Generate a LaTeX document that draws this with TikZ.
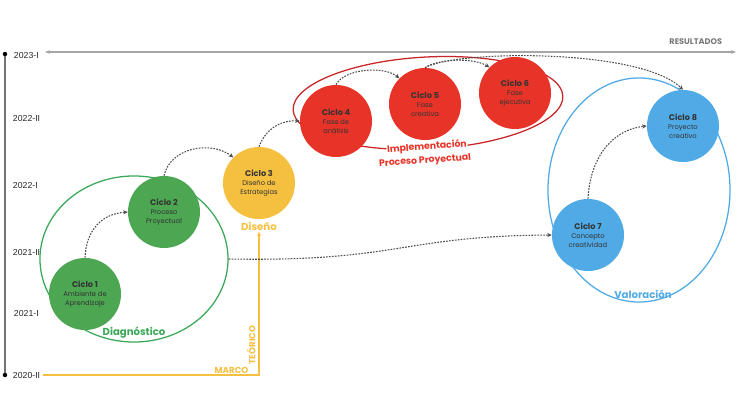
\documentclass[tikz,border=0pt]{standalone}
\usepackage{fontspec}
\setmainfont{Liberation Sans}
\newfontfamily\poppins{Poppins}
\usetikzlibrary{arrows.meta,shapes.geometric}

\definecolor{verde}{RGB}{76,166,82}
\definecolor{verdelinea}{RGB}{58,168,88}
\definecolor{amarillo}{RGB}{245,192,64}
\definecolor{rojo}{RGB}{232,52,40}
\definecolor{rojolinea}{RGB}{200,38,38}
\definecolor{azul}{RGB}{80,170,230}
\definecolor{gristexto}{RGB}{120,120,120}

\newcommand\titulo[1]{{\bfseries\fontsize{5.8}{7}\selectfont #1}}

\tikzset{
  ciclo/.style={circle, minimum size=1.8cm, inner sep=0pt, align=center,
    font=\poppins\fontsize{4.8}{6.3}\selectfont, text=black!80},
  grupo/.style={ellipse, inner sep=0pt, line width=0.9pt},
  flecha/.style={dash pattern=on 1.2pt off 0.9pt, line width=0.75pt, black!70,
    -{Stealth[length=3.2pt,width=3pt]}},
  etapa/.style={font=\poppins\bfseries\fontsize{7.2}{8}\selectfont, inner sep=1pt},
  fecha/.style={font=\fontsize{6.2}{7}\selectfont, anchor=west, text=black!85},
}

\begin{document}
\begin{tikzpicture}[x=0.025cm, y=-0.025cm]
    \useasboundingbox (0,0) rectangle (738,414);

    % Eje del tiempo
    \coordinate (ejeA) at (5,54);
    \coordinate (ejeB) at (5,375);
    \draw[line width=1.3pt, black!55] (ejeA) -- (ejeB);
    \fill (ejeA) circle (1.6pt);
    \fill (ejeB) circle (1.6pt);
    \node[fecha] (f23i)  at (9,55)  {2023-I};
    \node[fecha] (f22ii) at (8,118) {2022-II};
    \node[fecha] (f22i)  at (8,185) {2022-I};
    \node[fecha] (f21ii) at (8,252) {2021-II};
    \node[fecha] (f21i)  at (9,313) {2021-I};
    \node[fecha] (f20ii) at (8,375) {2020-II};

    % Resultados
    \coordinate (resA) at (45,52);
    \coordinate (resB) at (736,52);
    \draw[black!35, line width=0.8pt, {Stealth[length=3.5pt]}-{Stealth[length=3.5pt]}] (resA) -- (resB);
    \node[font=\poppins\bfseries\fontsize{5.8}{6}\selectfont, text=gristexto, anchor=south east] (resultados) at (727,50) {RESULTADOS};

    % Etapas (elipses)
    \node[grupo, draw=verdelinea, minimum width=4.7cm, minimum height=4.15cm] (diag) at (134,259) {};
    \node[grupo, draw=rojolinea, minimum width=6.75cm, minimum height=2.3cm, rotate=3] (impl) at (428,103) {};
    \node[grupo, draw=azul, minimum width=4.55cm, minimum height=5.6cm] (valo) at (639,190) {};

    % Ciclos
    \node[ciclo, fill=verde] (c1) at (85,294) {\titulo{Ciclo 1}\\Ambiente de\\Aprendizaje};
    \node[ciclo, fill=verde] (c2) at (164,212) {\titulo{Ciclo 2}\\Proceso\\Proyectual};
    \node[ciclo, fill=amarillo] (c3) at (259,183) {\titulo{Ciclo 3}\\Diseño de\\Estrategias};
    \node[ciclo, fill=rojo] (c4) at (336,121) {\titulo{Ciclo 4}\\Fase de\\análisis};
    \node[ciclo, fill=rojo] (c5) at (425,104) {\titulo{Ciclo 5}\\Fase\\creativa};
    \node[ciclo, fill=rojo] (c6) at (515,93) {\titulo{Ciclo 6}\\Fase\\ejecutiva};
    \node[ciclo, fill=azul] (c7) at (588,235) {\titulo{Ciclo 7}\\Concepto\\creatividad};
    \node[ciclo, fill=azul] (c8) at (683,126) {\titulo{Ciclo 8}\\Proyecto\\creativo};

    % Nombres de las etapas
    \node[etapa, text=verdelinea] (diagnostico) at (134,333) {Diagnóstico};
    \node[etapa, text=amarillo] (diseno) at (259,226) {Diseño};
    \node[etapa, text=rojo, fill=white, inner sep=0.5pt, rotate=4, font=\poppins\bfseries\fontsize{6.6}{7}\selectfont] (implementacion) at (427,147) {Implementación};
    \node[etapa, text=rojo, rotate=4, font=\poppins\bfseries\fontsize{6.6}{7}\selectfont] (proceso) at (425,161) {Proceso Proyectual};
    \node[etapa, text=azul] (valoracion) at (643,294) {Valoración};

    % Marco teorico
    \coordinate (marcoA) at (43,375);
    \coordinate (marcoB) at (259,375);
    \draw[amarillo, line width=0.8pt, -{Stealth[length=3pt,width=3pt]}] (marcoA) -- (marcoB) -- (diseno.south);
    \node[font=\poppins\bfseries\fontsize{6.2}{7}\selectfont, text=amarillo, anchor=south east, inner sep=1pt] (marco) at (250,375) {MARCO};
    \node[font=\poppins\bfseries\fontsize{6.2}{7}\selectfont, text=amarillo, rotate=90, anchor=south, inner sep=1pt] (teorico) at (257,345) {TEÓRICO};

    % Recorrido entre ciclos
    \draw[flecha] (c1.north) .. controls (86,232) and (100,214) .. (c2.west);
    \draw[flecha] (c2.north) .. controls (170,148) and (210,140) .. (c3.north west);
    \draw[flecha] (c3.north) .. controls (265,130) and (280,120) .. (c4.west);
    \draw[flecha] (c4.north) .. controls (345,68) and (385,66) .. (c5.north west);
    \draw[flecha] (c5.north) .. controls (440,58) and (475,58) .. (c6.north west);
    \draw[flecha] (c5.north) .. controls (455,50) and (640,48) .. (c8.north);
    \draw[flecha] (diag.east) .. controls (400,262) and (400,236) .. (c7.west);
    \draw[flecha] (c7.north) .. controls (590,160) and (610,130) .. (c8.west);
\end{tikzpicture}
\end{document}
